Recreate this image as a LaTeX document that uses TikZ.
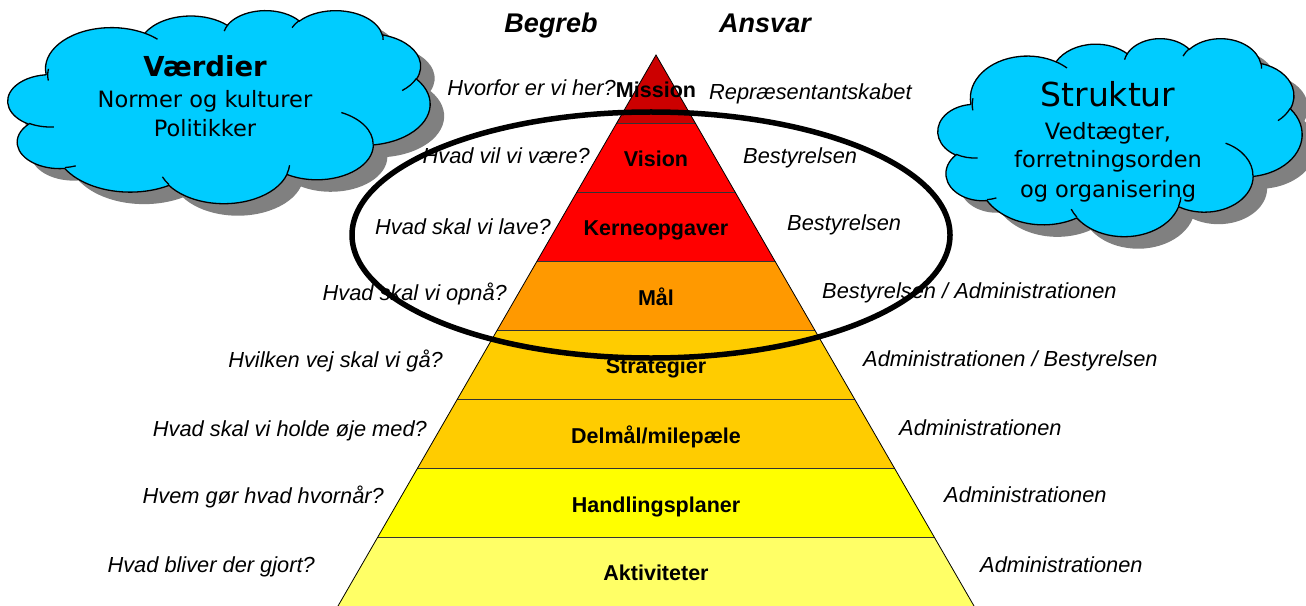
\documentclass[tikz,border=0pt]{standalone}
\usepackage{fontspec}
\setmainfont{Liberation Sans}
\newfontfamily\cloudfont{DejaVu Sans}
\definecolor{missionc}{HTML}{CC0000}
\definecolor{visionc}{HTML}{FF0000}
\definecolor{kernec}{HTML}{FF0000}
\definecolor{maalc}{HTML}{FF9900}
\definecolor{stratc}{HTML}{FFCC00}
\definecolor{delc}{HTML}{FFCC00}
\definecolor{handc}{HTML}{FFFF00}
\definecolor{aktc}{HTML}{FFFF66}
\definecolor{cloudc}{HTML}{00CCFF}
\definecolor{shadowc}{HTML}{808080}
% PowerPoint-like cloud: #1 x0, #2 y0, #3 width, #4 height (in px)
\newcommand\pptcloud[4]{%
  \pgfmathsetmacro\cwx{#3/432}%
  \pgfmathsetmacro\cwy{#4/432}%
  \begin{scope}[shift={(#1+14,#2+12)}, x=\cwx bp, y=-\cwy bp]
    \fill[shadowc] (39,143.7)
      \foreach \a/\b/\c/\d [evaluate=\c as \tA using {atan2(\a*sin(\c),\b*cos(\c))},
                            evaluate=\c as \tB using {atan2(\a*sin(\c+\d),\b*cos(\c+\d))},
                            evaluate=\c as \dl using {mod(\tB-\tA+720,360)}]
        in {67.53/91.90/-190.487/123.781, 53.33/72.67/-144.102/89.945,
            43.65/59.45/-145.808/99.723, 48.57/65.95/-130.986/117.242,
            53.33/72.73/-78.709/109.027, 67.75/92.20/-46.267/130.269,
            57.85/78.67/0.625/114.033, 67.52/92.15/22.452/115.173,
            77.20/105.43/66.243/75.711, 43.60/59.18/-274.942/146.736,
            43.45/59.45/-246.829/152.519}
        { arc[start angle=\tA, delta angle=\dl, x radius=\a, y radius=\b] } -- cycle;
  \end{scope}
  \begin{scope}[shift={(#1,#2)}, x=\cwx bp, y=-\cwy bp]
    \draw[cloudline, fill=cloudc] (39,143.7)
      \foreach \a/\b/\c/\d [evaluate=\c as \tA using {atan2(\a*sin(\c),\b*cos(\c))},
                            evaluate=\c as \tB using {atan2(\a*sin(\c+\d),\b*cos(\c+\d))},
                            evaluate=\c as \dl using {mod(\tB-\tA+720,360)}]
        in {67.53/91.90/-190.487/123.781, 53.33/72.67/-144.102/89.945,
            43.65/59.45/-145.808/99.723, 48.57/65.95/-130.986/117.242,
            53.33/72.73/-78.709/109.027, 67.75/92.20/-46.267/130.269,
            57.85/78.67/0.625/114.033, 67.52/92.15/22.452/115.173,
            77.20/105.43/66.243/75.711, 43.60/59.18/-274.942/146.736,
            43.45/59.45/-246.829/152.519}
        { arc[start angle=\tA, delta angle=\dl, x radius=\a, y radius=\b] } -- cycle;
    \draw[cloudline]
      \foreach \p/\q/\a/\b/\c/\d [evaluate=\c as \tA using {atan2(\a*sin(\c),\b*cos(\c))},
                            evaluate=\c as \tB using {atan2(\a*sin(\c+\d),\b*cos(\c+\d))},
                            evaluate=\c as \dl using {mod(\tB-\tA+720,360)}]
        in {46.93/261.77/43.45/59.45/86.742/26.430,
            69.28/348.92/43.60/59.18/73.611/11.447,
            164.78/390.90/67.52/92.15/137.624/14.081,
            288.27/347.51/67.52/92.15/6.453/15.998,
            341.29/229.54/57.85/78.67/-70.292/70.917,
            417.98/153.54/53.33/72.73/30.318/27.752,
            383.24/54.26/48.57/65.95/-13.744/14.859,
            290.78/39.52/48.57/65.95/-149.181/18.195,
            221.41/47.20/43.65/59.45/-163.494/17.686,
            140.00/51.92/67.53/91.90/-66.707/12.319,
            41.27/157.89/67.53/91.90/-190.487/22.227}
        { (\p,\q) arc[start angle=\tA, delta angle=\dl, x radius=\a, y radius=\b] };
  \end{scope}}
\begin{document}
\begin{tikzpicture}[x=1bp,y=-1bp,
  lbl/.style={font=\fontsize{21.5bp}{24bp}\selectfont\bfseries, anchor=base, inner sep=0},
  qleft/.style={font=\fontsize{21.8bp}{24bp}\selectfont\itshape, anchor=base east, inner sep=0},
  qright/.style={font=\fontsize{21.8bp}{24bp}\selectfont\itshape, anchor=base west, inner sep=0},
  head/.style={font=\fontsize{27bp}{30bp}\selectfont\bfseries\itshape, anchor=base, inner sep=0},
  cloudline/.style={draw=black, line width=1.3bp},
  ctext/.style={font=\cloudfont\fontsize{22.5bp}{26bp}\selectfont, anchor=base, inner sep=0},
  ring/.style={draw=black, line width=5.5bp}]
\useasboundingbox (0,0) rectangle (1306,606);
% pyramid bands
\foreach \i/\c in {0/missionc,1/visionc,2/kernec,3/maalc,4/stratc,5/delc,6/handc,7/aktc} {
  \pgfmathsetmacro\ya{55+68.875*\i}
  \pgfmathsetmacro\yb{55+68.875*(\i+1)}
  \pgfmathsetmacro\ha{(\ya-55)*0.5774}
  \pgfmathsetmacro\hb{(\yb-55)*0.5774}
  \fill[\c] ({656-\ha},\ya) -- ({656+\ha},\ya) -- ({656+\hb},\yb) -- ({656-\hb},\yb) -- cycle;
  \ifnum\i>0
    \draw[black!80, line width=1.2bp] ({656-\ha},\ya) -- ({656+\ha},\ya);
  \fi
}
\draw[black, line width=0.8bp, line join=miter] (338,606) -- (656,55) -- (974,606);
% labels in pyramid
\node[lbl] (mission) at (656,98) {Mission};
\node[lbl] (vision) at (656,167) {Vision};
\node[lbl] (kerne) at (656,235) {Kerneopgaver};
\node[lbl] (maal) at (656,305) {Mål};
\node[lbl] (strat) at (656,373) {Strategier};
\node[lbl] (delmaal) at (656,443) {Delmål/milepæle};
\node[lbl] (handling) at (656,512) {Handlingsplaner};
\node[lbl] (akt) at (656,580) {Aktiviteter};
% headers
\node[head] (begreb) at (551,33) {Begreb};
\node[head] (ansvar) at (765,33) {Ansvar};
% questions
\node[qleft] (q1) at (616,96) {Hvorfor er vi her?};
\node[qleft] (q2) at (590,164) {Hvad vil vi være?};
\node[qleft] (q3) at (551,234) {Hvad skal vi lave?};
\node[qleft] (q4) at (507,300) {Hvad skal vi opnå?};
\node[qleft] (q5) at (443,367) {Hvilken vej skal vi gå?};
\node[qleft] (q6) at (427,436) {Hvad skal vi holde øje med?};
\node[qleft] (q7) at (384,503) {Hvem gør hvad hvornår?};
\node[qleft] (q8) at (315,572) {Hvad bliver der gjort?};
% responsibilities
\node[qright] (r1) at (709,100) {Repræsentantskabet};
\node[qright] (r2) at (743,164) {Bestyrelsen};
\node[qright] (r3) at (787,230) {Bestyrelsen};
\node[qright] (r4) at (822,298) {Bestyrelsen / Administrationen};
\node[qright] (r5) at (863,366) {Administrationen / Bestyrelsen};
\node[qright] (r6) at (899,435) {Administrationen};
\node[qright] (r7) at (944,502) {Administrationen};
\node[qright] (r8) at (980,572) {Administrationen};
% ellipse
\draw[ring] (651,235) ellipse [x radius=299bp, y radius=123bp];
% clouds
\pptcloud{8}{10}{422}{193}
\pptcloud{938}{38}{364}{198}
\node[ctext, font=\cloudfont\fontsize{27.5bp}{30bp}\selectfont\bfseries] (vaerdier) at (205,77) {Værdier};
\node[ctext] (normer) at (205,108) {Normer og kulturer};
\node[ctext] (politik) at (205,137) {Politikker};
\node[ctext, font=\cloudfont\fontsize{33bp}{36bp}\selectfont] (struktur) at (1108,107) {Struktur};
\node[ctext] (vedt) at (1108,140) {Vedtægter,};
\node[ctext] (forr) at (1108,168) {forretningsorden};
\node[ctext] (organ) at (1108,197) {og organisering};
\end{tikzpicture}
\end{document}
